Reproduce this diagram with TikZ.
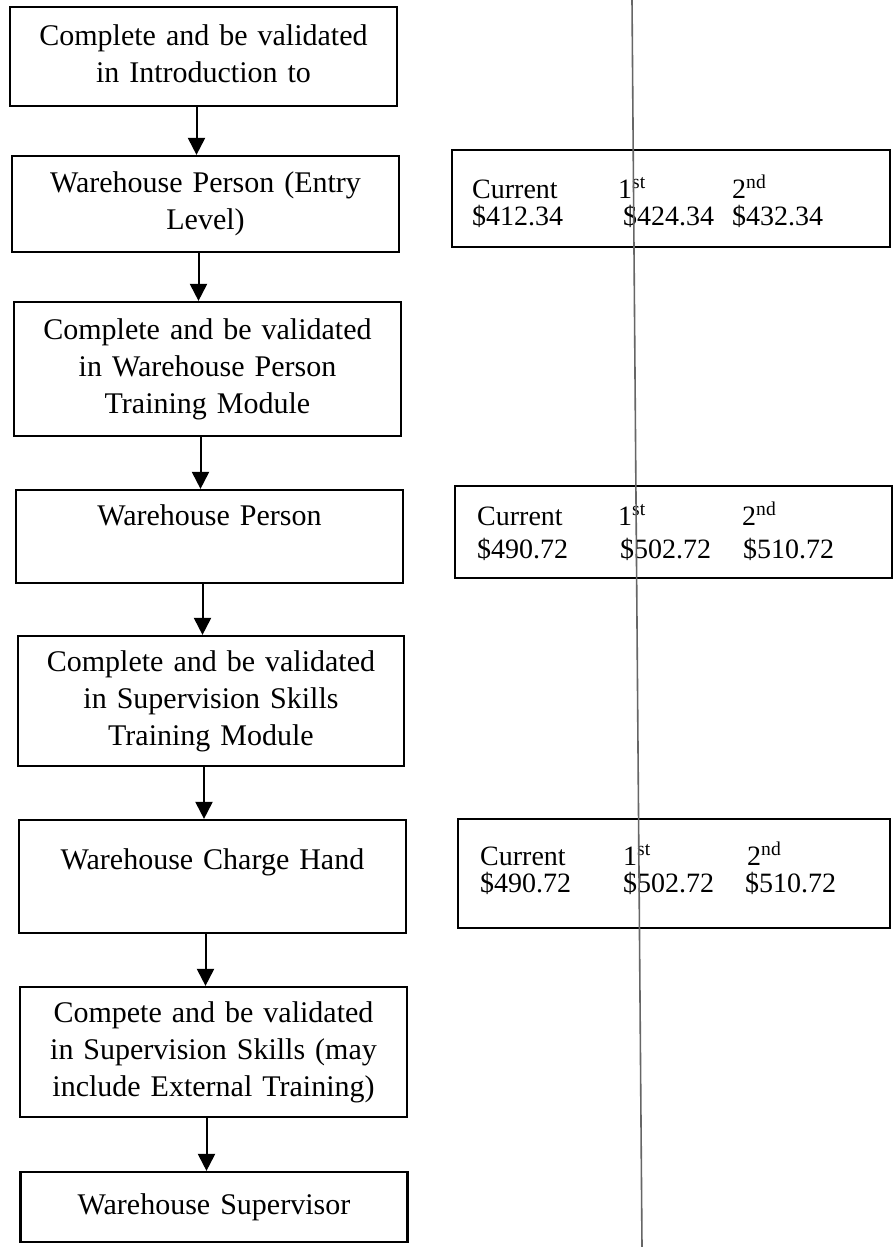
\documentclass[tikz,border=0pt]{standalone}
\usepackage{fontspec}
\setmainfont{Liberation Serif}
\usetikzlibrary{arrows.meta}
\begin{document}
\begin{tikzpicture}[x=1pt,y=-1pt,
  flowbox/.style={draw, line width=2.2pt, inner sep=0pt, minimum width=387pt,
    text width=378pt, align=center, font=\fontsize{30}{37}\selectfont},
  pricebox/.style={draw, line width=2.2pt, inner sep=0pt},
  pricetext/.style={anchor=base west, inner sep=0pt, font=\fontsize{28}{30}\selectfont},
  flowarrow/.style={line width=2pt, -{Triangle[length=17pt,width=17pt]}},
  scanline/.style={draw=black!60, line width=1.6pt}]
\useasboundingbox[fill=white] (0,0) rectangle (895,1247);

% left flow boxes
\node[flowbox, minimum height=99pt] (b1) at (203.5,56.5)
  {\strut Complete and be validated\\\strut in Introduction to};
\node[flowbox, minimum height=96pt] (b2) at (205.5,204)
  {\strut Warehouse Person (Entry\\\strut Level)};
\node[flowbox, minimum height=134pt] (b3) at (207.5,369)
  {\strut Complete and be validated\\\strut in Warehouse Person\\\strut Training Module};
\node[flowbox, minimum height=93pt] (b4) at (209.5,536.5)
  {\strut Warehouse Person\\\strut};
\node[flowbox, minimum width=386pt, minimum height=130pt] (b5) at (211,701)
  {\strut Complete and be validated\\\strut in Supervision Skills\\\strut Training Module};
\node[flowbox, minimum height=113pt] (b6) at (212.5,876.5)
  {\strut Warehouse Charge Hand\\[-8pt]\strut};
\node[flowbox, minimum height=130pt] (b7) at (213.5,1052)
  {\strut Compete and be validated\\\strut in Supervision Skills (may\\\strut include External Training)};
\node[flowbox, minimum height=70pt] (b8) at (214,1207)
  {\strut Warehouse Supervisor};

% arrows
\foreach \a/\b in {b1/b2,b2/b3,b3/b4,b4/b5,b5/b6,b6/b7,b7/b8}
  \draw[flowarrow] ([xshift=-7pt]\a.south) -- ([xshift=-7pt]\a.south |- \b.north);

% right pay boxes
\node[pricebox, minimum width=438pt, minimum height=97pt] (r1) at (671,198.5) {};
\node[pricebox, minimum width=437pt, minimum height=92pt] (r2) at (673.5,532) {};
\node[pricebox, minimum width=432pt, minimum height=109pt] (r3) at (674,873.5) {};

\node[pricetext] (r1a) at (472,198) {Current};
\node[pricetext] (r1b) at (618,198) {1\textsuperscript{st}};
\node[pricetext] (r1c) at (732,198) {2\textsuperscript{nd}};
\node[pricetext] (r1d) at (472,225) {\$412.34};
\node[pricetext] (r1e) at (623,225) {\$424.34};
\node[pricetext] (r1f) at (732,225) {\$432.34};

\node[pricetext] (r2a) at (477,525) {Current};
\node[pricetext] (r2b) at (618,525) {1\textsuperscript{st}};
\node[pricetext] (r2c) at (742,525) {2\textsuperscript{nd}};
\node[pricetext] (r2d) at (477,558) {\$490.72};
\node[pricetext] (r2e) at (620,558) {\$502.72};
\node[pricetext] (r2f) at (743,558) {\$510.72};

\node[pricetext] (r3a) at (480,865) {Current};
\node[pricetext] (r3b) at (623,865) {1\textsuperscript{st}};
\node[pricetext] (r3c) at (747,865) {2\textsuperscript{nd}};
\node[pricetext] (r3d) at (480,892) {\$490.72};
\node[pricetext] (r3e) at (623,892) {\$502.72};
\node[pricetext] (r3f) at (745,892) {\$510.72};

% vertical line
\coordinate (vtop) at (632,0);
\coordinate (vbot) at (642,1247);
\draw[scanline] (vtop) -- (vbot);
\end{tikzpicture}
\end{document}
